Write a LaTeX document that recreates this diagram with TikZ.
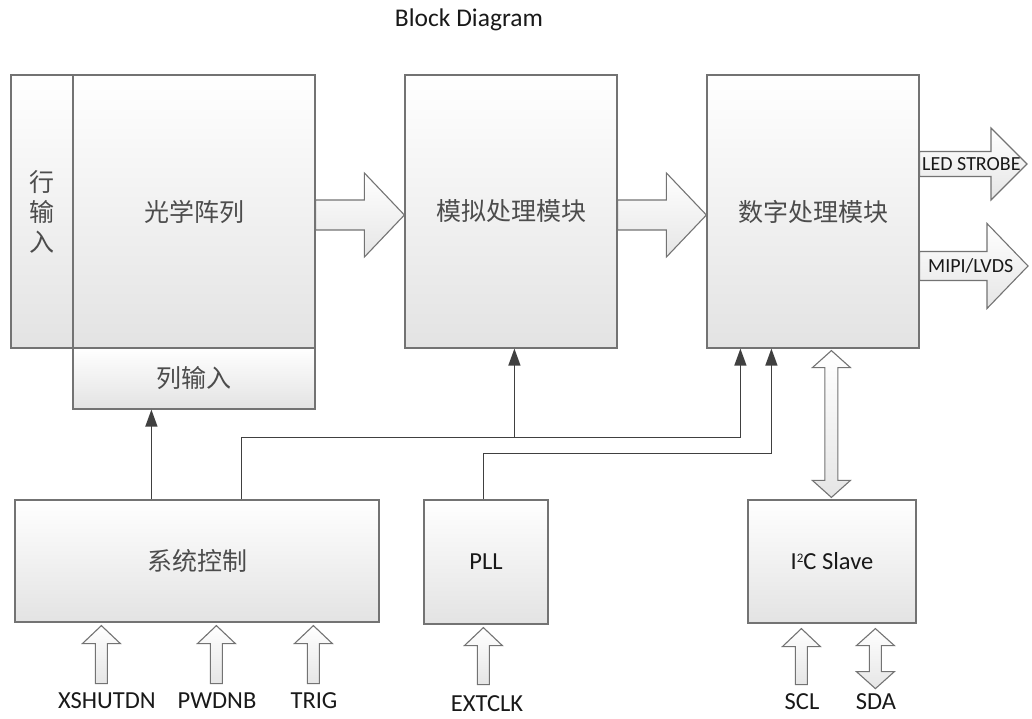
\documentclass[tikz,border=0pt]{standalone}
\usepackage{fontspec}
\setmainfont{Carlito}
\newfontfamily\cjk{Noto Sans CJK SC}
\usetikzlibrary{arrows.meta,calc}
\tikzset{
  box/.style={draw=black!55, line width=1.2pt, top color=white, bottom color=black!11,
    inner sep=0pt, align=center, font=\cjk\fontsize{25}{30}\selectfont, text=black!70},
  ebox/.style={box, font=\fontsize{24.5}{28}\selectfont, text=black!90},
  barrow/.style={draw=black!55, line width=1.1pt, top color=white, bottom color=black!10, line join=miter},
  sig/.style={draw=black!75, line width=1.4pt},
  sigarrow/.style={sig, -{Triangle[length=17pt,width=12pt]}},
  lbl/.style={font=\fontsize{24.5}{28}\selectfont, text=black!90, inner sep=0pt},
  slbl/.style={font=\fontsize{20}{24}\selectfont, text=black!90, inner sep=0pt, anchor=west},
}
% horizontal block arrow: start, tip, shaft half, head half, head length
\newcommand{\RArrow}[5]{\draw[barrow] let \p1=(#1), \p2=(#2) in
  (\x1,\y1+#3) -- (\x2-#5,\y1+#3) -- (\x2-#5,\y1+#4) -- (\x2,\y1) -- (\x2-#5,\y1-#4)
  -- (\x2-#5,\y1-#3) -- (\x1,\y1-#3) -- cycle;}
% upward block arrow: tip, length
\newcommand{\UArrow}[2]{\draw[barrow] let \p1=(#1) in
  (\x1,\y1) -- (\x1+19pt,\y1-18pt) -- (\x1+6pt,\y1-18pt) -- (\x1+6pt,\y1-#2)
  -- (\x1-6pt,\y1-#2) -- (\x1-6pt,\y1-18pt) -- (\x1-19pt,\y1-18pt) -- cycle;}
% double vertical block arrow: top tip, bottom tip, shaft half
\newcommand{\DArrow}[3]{\draw[barrow] let \p1=(#1), \p2=(#2) in
  (\x1,\y1) -- (\x1+19pt,\y1-17pt) -- (\x1+#3,\y1-17pt) -- (\x1+#3,\y2+17pt)
  -- (\x1+19pt,\y2+17pt) -- (\x1,\y2) -- (\x1-19pt,\y2+17pt) -- (\x1-#3,\y2+17pt)
  -- (\x1-#3,\y1-17pt) -- (\x1-19pt,\y1-17pt) -- cycle;}
\begin{document}
\begin{tikzpicture}[x=1pt,y=-1pt]
\useasboundingbox (0,0) rectangle (1032,718);

\node[lbl, font=\fontsize{25.5}{30}\selectfont] (title) at (469,20) {Block Diagram};

% boxes
\node[box, minimum width=62pt, minimum height=273pt] (rowin) at (42,211.5) {行\\输\\入};
\node[box, minimum width=242pt, minimum height=273pt] (optical) at (194,211.5) {光学阵列};
\node[box, minimum width=242pt, minimum height=61pt] (colin) at (194,378.5) {列输入};
\node[box, minimum width=212pt, minimum height=273pt] (analog) at (511,211.5) {模拟处理模块};
\node[box, minimum width=212pt, minimum height=273pt] (digital) at (813,211.5) {数字处理模块};
\node[box, minimum width=364pt, minimum height=122pt] (sysctl) at (197,561) {系统控制};
\node[ebox, minimum width=124pt, minimum height=124pt] (pll) at (486,562) {PLL};
\node[ebox, minimum width=168pt, minimum height=123pt] (i2c) at (832,561.5) {I\raisebox{7pt}{\fontsize{13}{13}\selectfont 2}C Slave};

% big data arrows
\coordinate (a1s) at ([yshift=-3.5pt]optical.east);
\coordinate (a1t) at ([yshift=-3.5pt]analog.west);
\RArrow{a1s}{a1t}{15pt}{42pt}{40pt}
\coordinate (a2s) at ([yshift=-3.5pt]analog.east);
\coordinate (a2t) at ([yshift=-3.5pt]digital.west);
\RArrow{a2s}{a2t}{15pt}{42pt}{40pt}

% outputs
\coordinate (ls) at ([yshift=47.5pt]digital.east);
\coordinate (lt) at (1027,164);
\RArrow{ls}{lt}{12.5pt}{36pt}{36pt}
\node[slbl] (ledl) at (922,164) {LED STROBE};
\coordinate (ms) at ([yshift=-54.5pt]digital.east);
\coordinate (mt) at (1028,266);
\RArrow{ms}{mt}{14.5pt}{42.5pt}{41pt}
\node[slbl] (mipil) at (928,266) {MIPI/LVDS};

% signal lines
\coordinate (s1) at ([xshift=137pt]sysctl.north west);
\draw[sigarrow] (s1) -- (s1 |- colin.south);
\coordinate (s2) at ([xshift=227pt]sysctl.north west);
\coordinate (dIn1) at ([xshift=34pt]digital.south west);
\coordinate (dIn2) at ([xshift=65pt]digital.south west);
\coordinate (aIn) at ([xshift=110pt]analog.south west);
\draw[sigarrow] (s2) -- ++(0,-62) coordinate (bus) -| (dIn1);
\draw[sigarrow] (bus -| aIn) -- (aIn);
\coordinate (p1) at ([xshift=60pt]pll.north west);
\draw[sigarrow] (p1) -- ++(0,-46) -| (dIn2);

% I2C bus
\coordinate (i2top) at ([xshift=125pt,yshift=-2pt]digital.south west);
\coordinate (i2bot) at ([yshift=2pt]i2c.north);
\DArrow{i2top}{i2bot}{6.5pt}

% inputs
\coordinate (xsh) at ([xshift=87pt,yshift=-3pt]sysctl.south west);
\UArrow{xsh}{58pt}
\coordinate (pwd) at ([xshift=202pt,yshift=-3pt]sysctl.south west);
\UArrow{pwd}{58pt}
\coordinate (trg) at ([xshift=299pt,yshift=-3pt]sysctl.south west);
\UArrow{trg}{58pt}
\coordinate (ext) at ([xshift=60pt,yshift=-3pt]pll.south west);
\UArrow{ext}{57pt}
\coordinate (scl) at ([xshift=54pt,yshift=-5pt]i2c.south west);
\UArrow{scl}{56pt}
\coordinate (sdat) at ([xshift=128pt,yshift=-5pt]i2c.south west);
\coordinate (sdab) at ([yshift=-60pt]sdat);
\DArrow{sdat}{sdab}{6pt}

\node[lbl] (lxsh) at (107,701) {XSHUTDN};
\node[lbl] (lpwd) at (217,701) {PWDNB};
\node[lbl] (ltrg) at (314,701) {TRIG};
\node[lbl] (lext) at (487,704) {EXTCLK};
\node[lbl] (lscl) at (802,702) {SCL};
\node[lbl] (lsda) at (876,702) {SDA};
\end{tikzpicture}
\end{document}
